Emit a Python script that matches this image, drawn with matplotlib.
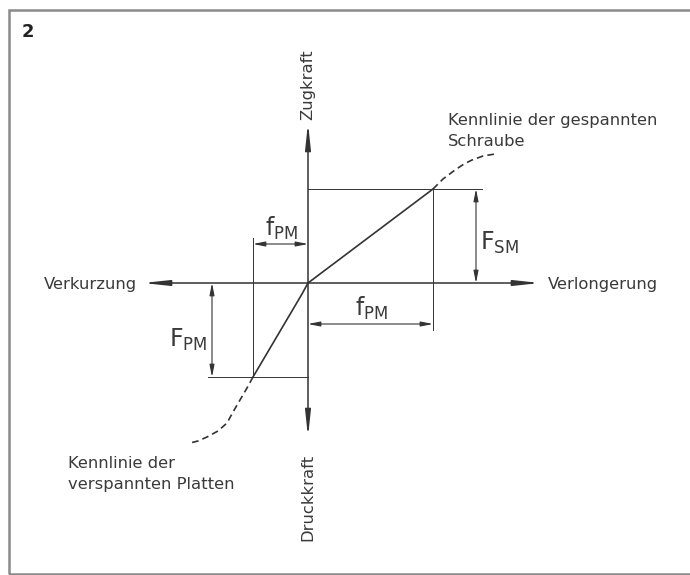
import matplotlib
matplotlib.use("Agg")
import matplotlib.pyplot as plt
from matplotlib.patches import Rectangle

# Diagram coordinates: origin at the crossing of the axes, y upwards
# Characteristic of the tensioned bolt (solid part + dashed continuation)
bolt_x = [0, 125]
bolt_y = [0, 94]
bolt_dash_x = [125, 135, 147, 156, 164, 175, 187]
bolt_dash_y = [94, 104, 113, 119, 123, 127, 129]

# Characteristic of the clamped plates
plate_x = [0, -6, -55]
plate_y = [0, -11, -94]
plate_dash_x = [-55, -61, -68, -75, -81, -90, -101, -110, -118]
plate_dash_y = [-94, -105, -117, -129, -140, -148, -154, -158, -160]

# Axis extents
x_axis = [-165, 232]
y_axis = [-154, 160]

# Dimension values
F_SM = 94
F_PM = -94
f_bolt = 125
f_plate = -55

LINE = "#333333"
TEXT = "#3a3a3a"

fig = plt.figure(figsize=(6.9, 5.75), dpi=100)
ax = fig.add_axes([0, 0, 1, 1])
ax.set_xlim(-308, 382)
ax.set_ylim(-292, 283)
ax.axis("off")

# outer frame
ax.add_patch(Rectangle((-299, -291), 720, 564, fill=False, edgecolor="#8a8a8a", lw=1.8))


def arrow(x0, y0, x1, y1, style, scale=10, lw=0.9):
    ax.annotate("", xy=(x1, y1), xytext=(x0, y0),
                arrowprops=dict(arrowstyle=style, color=LINE, lw=lw,
                                shrinkA=0, shrinkB=0, mutation_scale=scale))


# axes with arrow heads
axis_style = "<|-|>,head_length=1.4,head_width=0.15"
arrow(x_axis[0], 0, x_axis[1], 0, axis_style, scale=11, lw=1.1)
arrow(0, y_axis[0], 0, y_axis[1], axis_style, scale=11, lw=1.1)

# characteristic lines
ax.plot(bolt_x, bolt_y, color=LINE, lw=1.2)
ax.plot(bolt_dash_x, bolt_dash_y, color=LINE, lw=1.2, ls=(0, (4, 2.5)))
ax.plot(plate_x, plate_y, color=LINE, lw=1.2)
ax.plot(plate_dash_x, plate_dash_y, color=LINE, lw=1.2, ls=(0, (4, 2.5)))

# extension lines
thin = dict(color=LINE, lw=0.7)
ax.plot([0, 174], [F_SM, F_SM], **thin)
ax.plot([f_bolt, f_bolt], [F_SM, -47], **thin)
ax.plot([-100, 0], [F_PM, F_PM], **thin)
ax.plot([f_plate, f_plate], [F_PM, 45], **thin)

# dimension arrows
dim_style = "<|-|>,head_length=0.8,head_width=0.16"
arrow(168, 0, 168, F_SM, dim_style, scale=9, lw=0.8)
arrow(-96, 0, -96, F_PM, dim_style, scale=9, lw=0.8)
arrow(f_plate, 39, 0, 39, dim_style, scale=9, lw=0.8)
arrow(0, -41, f_bolt, -41, dim_style, scale=9, lw=0.8)

# dimension labels
big = dict(color=TEXT, fontsize=17)
ax.text(172, 40, r"$\mathregular{F_{SM}}$", ha="left", va="center", **big)
ax.text(-101, -57, r"$\mathregular{F_{PM}}$", ha="right", va="center", **big)
ax.text(-26, 55, r"$\mathregular{f_{PM}}$", ha="center", va="center", **big)
ax.text(64, -25, r"$\mathregular{f_{PM}}$", ha="center", va="center", **big)

# axis labels
lab = dict(color=TEXT, fontsize=11.8)
ax.text(0, 198, "Zugkraft", rotation=90, ha="center", va="center", **lab)
ax.text(0, -214, "Druckkraft", rotation=90, ha="center", va="center", **lab)
ax.text(-171, -2, "Verkurzung", ha="right", va="center", **lab)
ax.text(240, -2, "Verlongerung", ha="left", va="center", **lab)

# curve annotations
ax.text(140, 163, "Kennlinie der gespannten", ha="left", va="center", **lab)
ax.text(140, 141, "Schraube", ha="left", va="center", **lab)
ax.text(-240, -180, "Kennlinie der", ha="left", va="center", **lab)
ax.text(-240, -202, "verspannten Platten", ha="left", va="center", **lab)

# figure number
ax.text(-280, 251, "2", ha="center", va="center", color="#222222",
        fontsize=13, fontweight="bold")

fig.savefig("out.png", dpi=100)
